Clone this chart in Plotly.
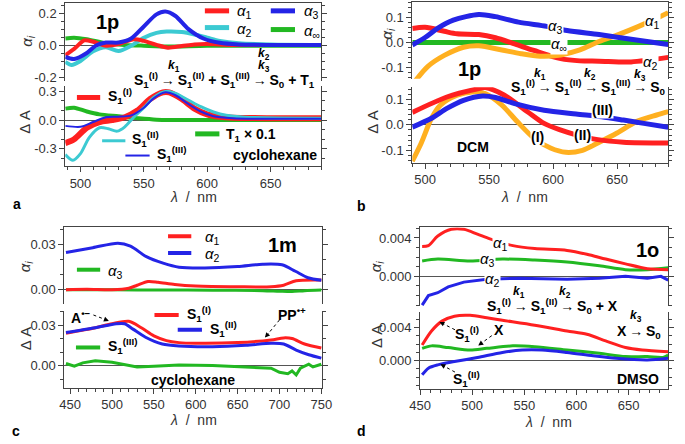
import plotly.graph_objects as go

# ---------------- data ----------------
# panel a (1p, cyclohexane) - amplitudes
a_a1_x = [488, 495, 503, 510, 520, 530, 542, 550, 560, 569, 580, 590, 600, 620, 690]
a_a1_y = [-0.06, -0.02, 0.033, 0.025, 0.0, 0.01, 0.04, 0.03, 0.005, -0.012, -0.002, 0.008, 0.01, 0.005, 0.005]
a_a2_x = [488, 493, 500, 510, 520, 530, 540, 550, 560, 568, 580, 590, 600, 610, 625, 650, 690]
a_a2_y = [-0.1, -0.12, -0.095, -0.035, -0.01, -0.033, 0.0, 0.05, 0.08, 0.088, 0.085, 0.07, 0.05, 0.03, 0.015, 0.008, 0.005]
a_a3_x = [488, 495, 505, 512, 520, 530, 540, 550, 560, 567, 575, 585, 597, 610, 625, 650, 690]
a_a3_y = [-0.07, -0.083, -0.045, 0.0, 0.02, 0.02, 0.045, 0.12, 0.195, 0.213, 0.185, 0.105, 0.045, 0.018, 0.008, 0.005, 0.005]
a_ainf_x = [488, 495, 505, 520, 535, 550, 570, 600, 690]
a_ainf_y = [0.045, 0.05, 0.04, 0.015, 0.005, 0.0, -0.005, 0.0, 0.0]
# panel a - species spectra
a_s1_x = [488, 495, 505, 515, 525, 535, 545, 555, 565, 570, 580, 590, 600, 610, 620, 650, 690]
a_s1_y = [-0.24, -0.2, -0.08, -0.02, 0.0, 0.03, 0.1, 0.22, 0.29, 0.29, 0.22, 0.12, 0.06, 0.035, 0.025, 0.02, 0.02]
a_s2_x = [488, 494, 500, 507, 515, 522, 529, 535, 542, 550, 558, 567, 575, 585, 595, 605, 615, 630, 690]
a_s2_y = [-0.36, -0.42, -0.35, -0.18, -0.08, -0.09, -0.115, -0.07, 0.03, 0.13, 0.24, 0.3, 0.28, 0.21, 0.14, 0.085, 0.05, 0.03, 0.02]
a_s3_x = [488, 500, 510, 520, 530, 540, 550, 558, 567, 575, 585, 595, 605, 620, 690]
a_s3_y = [-0.06, -0.07, -0.02, 0.03, 0.035, 0.05, 0.13, 0.23, 0.29, 0.26, 0.17, 0.09, 0.04, 0.02, 0.015]
a_t1_x = [488, 495, 505, 515, 530, 545, 560, 600, 690]
a_t1_y = [0.12, 0.13, 0.09, 0.06, 0.04, 0.02, 0.005, 0.0, 0.0]

# panel b (1p, DCM) - amplitudes
b_a1_x = [490, 502, 515, 530, 542, 560, 575, 590, 606, 621, 636, 651, 666, 680, 690]
b_a1_y = [-0.17, -0.097, -0.052, -0.019, -0.013, -0.03, -0.045, -0.055, -0.05, -0.03, 0.004, 0.032, 0.063, 0.095, 0.12]
b_a2_x = [490, 500, 515, 525, 542, 555, 570, 585, 606, 621, 636, 661, 690]
b_a2_y = [0.056, 0.061, 0.045, 0.035, 0.032, 0.019, -0.006, -0.032, -0.065, -0.074, -0.075, -0.078, -0.06]
b_a3_x = [490, 500, 510, 522, 542, 555, 573, 595, 611, 636, 661, 690]
b_a3_y = [-0.01, 0.02, 0.058, 0.09, 0.113, 0.104, 0.082, 0.065, 0.048, 0.032, 0.013, -0.008]
b_ainf_x = [490, 690]
b_ainf_y = [0.0, 0.0]
# panel b - species spectra
b_s1_x = [490, 497, 505, 512, 525, 537, 547, 560, 572, 585, 598, 610, 623, 635, 650, 665, 681, 690]
b_s1_y = [-0.143, -0.071, 0.026, 0.078, 0.117, 0.13, 0.123, 0.078, 0.013, -0.052, -0.091, -0.108, -0.1, -0.071, -0.032, 0.013, 0.039, 0.052]
b_s2_x = [490, 517, 542, 547, 562, 580, 593, 605, 618, 635, 655, 690]
b_s2_y = [0.049, 0.11, 0.143, 0.147, 0.117, 0.052, 0.006, -0.019, -0.039, -0.058, -0.068, -0.071]
b_s3_x = [490, 505, 517, 530, 545, 555, 570, 593, 618, 638, 655, 671, 690]
b_s3_y = [-0.009, 0.026, 0.065, 0.097, 0.114, 0.108, 0.084, 0.058, 0.043, 0.032, 0.019, 0.006, -0.009]

# panel c (1m, cyclohexane) - amplitudes
c_a1_x = [445, 470, 500, 520, 530, 543, 555, 575, 600, 650, 690, 705, 720, 750]
c_a1_y = [0.0, 0.0003, 0.0, 0.001, 0.003, 0.0055, 0.005, 0.0035, 0.0025, 0.002, 0.002, 0.003, 0.006, 0.0065]
c_a2_x = [445, 477, 507, 522, 541, 561, 580, 611, 650, 680, 703, 719, 734, 750]
c_a2_y = [0.0248, 0.028, 0.031, 0.029, 0.022, 0.0177, 0.015, 0.0145, 0.0155, 0.017, 0.0166, 0.0123, 0.008, 0.0063]
c_a3_x = [445, 500, 560, 620, 680, 700, 715, 730, 750]
c_a3_y = [0.0, 0.0, -0.0002, -0.0003, -0.0006, -0.001, -0.0012, -0.0006, -0.0002]
# panel c - species spectra
c_s1_x = [445, 480, 500, 520, 535, 550, 565, 580, 600, 650, 690, 705, 715, 730, 750]
c_s1_y = [0.024, 0.028, 0.031, 0.0328, 0.028, 0.022, 0.0185, 0.017, 0.0165, 0.017, 0.019, 0.0205, 0.02, 0.016, 0.013]
c_s2_x = [445, 480, 505, 515, 525, 540, 560, 580, 620, 660, 690, 705, 720, 735, 750]
c_s2_y = [0.0245, 0.028, 0.031, 0.031, 0.027, 0.021, 0.016, 0.0145, 0.014, 0.015, 0.0165, 0.016, 0.0115, 0.008, 0.0055]
c_s3_x = [445, 455, 465, 480, 500, 520, 530, 550, 580, 620, 660, 690, 700, 710, 715, 720, 725, 735, 740, 750]
c_s3_y = [0.0015, -0.0005, 0.002, 0.0035, 0.0025, 0.0, -0.001, -0.0005, 0.0005, 0.0, -0.001, -0.002, -0.005, -0.006, -0.004, -0.007, -0.002, 0.001, -0.001, 0.001]

# panel d (1o, DMSO) - amplitudes
d_a1_x = [452, 458, 467, 480, 492, 505, 517, 539, 560, 591, 610, 628, 647, 668, 688]
d_a1_y = [0.0031, 0.0032, 0.0042, 0.0049, 0.0049, 0.0044, 0.0039, 0.0032, 0.0029, 0.0027, 0.0023, 0.0018, 0.0013, 0.0008, 0.0007]
d_a2_x = [452, 458, 467, 477, 492, 514, 545, 591, 622, 647, 668, 681, 688]
d_a2_y = [-0.003, -0.002, -0.0017, -0.0011, -0.0006, -0.0003, -0.0002, -0.0003, -0.0002, 0.0, -0.0002, 0.0, -0.0004]
d_a3_x = [452, 467, 498, 529, 560, 591, 622, 647, 668, 688]
d_a3_y = [0.0016, 0.0018, 0.0016, 0.0018, 0.0017, 0.0015, 0.0011, 0.0007, 0.0007, 0.0009]
# panel d - species spectra
d_s1_x = [452, 461, 471, 483, 498, 514, 529, 560, 591, 610, 628, 647, 663, 688]
d_s1_y = [0.0019, 0.0036, 0.0048, 0.0054, 0.0055, 0.0052, 0.0049, 0.0043, 0.0036, 0.0032, 0.0024, 0.0016, 0.0013, 0.0011]
d_s2_x = [452, 458, 467, 483, 505, 529, 548, 567, 591, 616, 638, 668, 688]
d_s2_y = [-0.0017, -0.0009, -0.0005, -0.0001, 0.0004, 0.001, 0.0013, 0.0013, 0.001, 0.0006, 0.0003, 0.0001, 0.0003]
d_x_x = [452, 461, 477, 498, 514, 539, 560, 591, 622, 647, 668, 683, 688]
d_x_y = [0.0015, 0.0018, 0.0016, 0.0013, 0.0015, 0.0018, 0.0017, 0.0013, 0.0009, 0.0005, 0.0005, 0.0004, 0.0007]

RED = "#ff2020"
BLUE = "#2424e6"
CYAN = "#3ccad2"
GREEN = "#22b822"
ORANGE = "#ffb020"
AX = "#444444"
FONT = "Liberation Sans, Arial, sans-serif"

W, H = 685, 444


def X(px):
    return px / W


def Y(py):
    return 1 - py / H


fig = go.Figure()


def line(n, xs, ys, color, width, shape="spline"):
    fig.add_trace(go.Scatter(x=xs, y=ys, mode="lines", xaxis="x%d" % n if n > 1 else "x",
                             yaxis="y%d" % n if n > 1 else "y", showlegend=False,
                             line=dict(color=color, width=width, shape=shape, smoothing=0.8)))


# a
line(1, a_ainf_x, a_ainf_y, GREEN, 4)
line(1, a_a2_x, a_a2_y, CYAN, 4)
line(1, a_a1_x, a_a1_y, RED, 4)
line(1, a_a3_x, a_a3_y, BLUE, 4)
line(2, a_t1_x, a_t1_y, GREEN, 4)
line(2, a_s1_x, a_s1_y, RED, 6)
line(2, a_s2_x, a_s2_y, CYAN, 3)
line(2, a_s3_x, a_s3_y, BLUE, 2)
# b
line(3, b_ainf_x, b_ainf_y, GREEN, 5)
line(3, b_a2_x, b_a2_y, RED, 5)
line(3, b_a1_x, b_a1_y, ORANGE, 5)
line(3, b_a3_x, b_a3_y, BLUE, 5)
line(4, b_s1_x, b_s1_y, ORANGE, 5)
line(4, b_s2_x, b_s2_y, RED, 5)
line(4, b_s3_x, b_s3_y, BLUE, 5)
# c
line(5, c_a3_x, c_a3_y, GREEN, 3)
line(5, c_a1_x, c_a1_y, RED, 3)
line(5, c_a2_x, c_a2_y, BLUE, 3)
line(6, c_s3_x, c_s3_y, GREEN, 3, "linear")
line(6, c_s1_x, c_s1_y, RED, 3)
line(6, c_s2_x, c_s2_y, BLUE, 3)
# d
line(7, d_a2_x, d_a2_y, BLUE, 3, "linear")
line(7, d_a3_x, d_a3_y, GREEN, 3)
line(7, d_a1_x, d_a1_y, RED, 3)
line(8, d_x_x, d_x_y, GREEN, 3)
line(8, d_s2_x, d_s2_y, BLUE, 3)
line(8, d_s1_x, d_s1_y, RED, 3)

# ---------------- axes ----------------
panels = [
    dict(xp=(56, 320), xr=[488, 690], top=(1, 80), bot=(85, 166.7)),
    dict(xp=(414, 678), xr=[490, 690], top=(0, 78), bot=(86.7, 163.3)),
    dict(xp=(55, 321), xr=[443, 751], top=(229, 307), bot=(314, 392)),
    dict(xp=(422, 678), xr=[450, 688], top=(229, 309), bot=(315, 393)),
]
yspecs = [
    dict(r=[-0.218, 0.266], tv=[-0.2, 0, 0.2], tt=["-0.2", "0.0", "0.2"], m=0.05),
    dict(r=[-0.48, 0.36], tv=[-0.3, 0, 0.3], tt=["-0.3", "0.0", "0.3"], m=0.1),
    dict(r=[-0.146, 0.163], tv=[-0.1, 0, 0.1], tt=["-0.1", "0.0", "0.1"], m=0.02),
    dict(r=[-0.149, 0.148], tv=[-0.1, 0, 0.1], tt=["-0.1", "0.0", "0.1"], m=0.02),
    dict(r=[-0.0096, 0.0415], tv=[0, 0.03], tt=["0.00", "0.03"], m=0.01),
    dict(r=[-0.0165, 0.0404], tv=[0, 0.03], tt=["0.00", "0.03"], m=0.01),
    dict(r=[-0.0031, 0.0051], tv=[0, 0.004], tt=["0.000", "0.004"], m=0.001),
    dict(r=[-0.0034, 0.0059], tv=[0, 0.004], tt=["0.000", "0.004"], m=0.001),
]
tickfont = dict(family=FONT, size=13, color="#333333")
lay = {}
for i, p in enumerate(panels):
    for j, (key, box) in enumerate([("top", p["top"]), ("bot", p["bot"])]):
        n = 2 * i + j + 1
        xn = "xaxis" if n == 1 else "xaxis%d" % n
        yn = "yaxis" if n == 1 else "yaxis%d" % n
        xd = [X(p["xp"][0]), X(p["xp"][1])]
        yd = [Y(box[1]), Y(box[0])]
        ys = yspecs[n - 1]
        if key == "top":
            lay[xn] = dict(domain=xd, range=p["xr"], anchor="y%d" % n if n > 1 else "y", side="top",
                           showline=True, linecolor=AX, linewidth=1, ticks="", showticklabels=False,
                           showgrid=False, zeroline=False)
        else:
            lay[xn] = dict(domain=xd, range=p["xr"], anchor="y%d" % n, showline=True, linecolor=AX,
                           linewidth=1, ticks="outside", ticklen=5, tickcolor=AX, dtick=50, tick0=0,
                           tickfont=tickfont, showgrid=False, zeroline=False,
                           minor=dict(dtick=10, tick0=0, ticks="outside", ticklen=3, tickcolor=AX))
        lay[yn] = dict(domain=yd, range=ys["r"], anchor="x%d" % n if n > 1 else "x", showline=True,
                       linecolor=AX, linewidth=1, mirror="ticks", ticks="outside", ticklen=5,
                       tickcolor=AX, tickmode="array", tickvals=ys["tv"], ticktext=ys["tt"],
                       tickfont=tickfont, showgrid=False, zeroline=True, zerolinecolor="#555555",
                       zerolinewidth=1,
                       minor=dict(dtick=ys["m"], tick0=0, ticks="outside", ticklen=3, tickcolor=AX))
fig.update_layout(**lay)

# ---------------- annotations ----------------
ann = []
shapes = []


def T(x, y, text, size=15, bold=True, xa="center", color="black", bg=None, angle=0):
    if bold:
        text = "<b>" + text + "</b>"
    d = dict(x=X(x), y=Y(y), xref="paper", yref="paper", text=text, showarrow=False,
             xanchor=xa, yanchor="middle", textangle=angle,
             font=dict(family=FONT, size=size, color=color))
    if bg:
        d["bgcolor"] = bg
        d["borderpad"] = 0
    ann.append(d)


def swatch(x0, x1, y, color, width):
    shapes.append(dict(type="line", xref="paper", yref="paper", x0=X(x0), x1=X(x1), y0=Y(y), y1=Y(y),
                       line=dict(color=color, width=width)))


def darrow(x0, y0, x1, y1):
    shapes.append(dict(type="line", xref="paper", yref="paper", x0=X(x0), y0=Y(y0), x1=X(x1), y1=Y(y1),
                       line=dict(color="black", width=1, dash="dot")))
    ann.append(dict(x=X(x1), y=Y(y1), xref="paper", yref="paper", ax=-(x1 - x0) * 0.3,
                    ay=-(y1 - y0) * 0.3, text="", showarrow=True,
                    arrowhead=2, arrowsize=1, arrowwidth=1, arrowcolor="black"))


AL = "<i>α</i>"
S1 = "S<sub>1</sub>"
AR = "\u2009→\u2009"

# axis titles
for (x, y) in [(17, 39), (388, 32), (15, 269), (377, 268)]:
    T(x, y, "<i>α<sub>i</sub></i>", size=15, bold=False, color="#333333", angle=-90)
for (x, y) in [(14, 122), (373, 122), (15, 342), (377, 340)]:
    T(x, y, "Δ A", size=15, bold=False, color="#333333", angle=-90)
for (x, y) in [(188, 198), (530, 198), (188, 425), (555, 427)]:
    T(x, y, "<i>λ</i>  /  nm", size=14, bold=False, color="#333333")
for (x, y, t) in [(6, 205, "a"), (362, 207, "b"), (5, 436, "c"), (362, 436, "d")]:
    T(x, y, t, size=14)

# panel a
T(100, 20, "1p", size=20)
swatch(200, 225, 9, RED, 5)
T(231, 10, AL + "<sub>1</sub>", size=15, bold=False, xa="left")
swatch(268, 293, 9, BLUE, 5)
T(300, 10, AL + "<sub>3</sub>", size=15, bold=False, xa="left")
swatch(200, 225, 26, CYAN, 5)
T(231, 28, AL + "<sub>2</sub>", size=15, bold=False, xa="left")
swatch(268, 293, 28, GREEN, 5)
T(300, 30, AL + "<sub>∞</sub>", size=15, bold=False, xa="left")
T(316, 79, S1 + "<sup>(I)</sup>" + AR + S1 + "<sup>(II)</sup> + " + S1 + "<sup>(III)</sup>" + AR
  + "S<sub>0</sub> + T<sub>1</sub>", size=14, xa="right")
T(168, 65, "<i>k</i><sub>1</sub>", size=12)
T(261, 53, "<i>k</i><sub>2</sub>", size=12)
T(261, 65, "<i>k</i><sub>3</sub>", size=12)
swatch(68, 92, 97, RED, 5)
T(98, 95, S1 + "<sup>(I)</sup>", size=14, xa="left")
swatch(94, 118, 141, CYAN, 3)
T(123, 139, S1 + "<sup>(II)</sup>", size=14, xa="left")
swatch(118, 143, 156, BLUE, 2)
T(149, 154, S1 + "<sup>(III)</sup>", size=14, xa="left")
swatch(190, 215, 134, GREEN, 5)
T(220, 135, "T<sub>1</sub> × 0.1", size=14, xa="left")
T(318, 155, "cyclohexane", size=14, xa="right")

# panel b
T(473, 68, "1p", size=20)
T(562, 25, AL + "<sub>3</sub>", size=15, bold=False, bg="white")
T(662, 20, AL + "<sub>1</sub>", size=15, bold=False, bg="white")
T(565, 43, AL + "<sub>∞</sub>", size=15, bold=False, bg="white")
T(660, 61, AL + "<sub>2</sub>", size=15, bold=False, bg="white")
T(514, 86, S1 + "<sup>(I)</sup>" + AR + S1 + "<sup>(II)</sup>" + AR + S1 + "<sup>(III)</sup>" + AR
  + "S<sub>0</sub>", size=14, xa="left")
T(546, 73, "<i>k</i><sub>1</sub>", size=12)
T(597, 73, "<i>k</i><sub>2</sub>", size=12)
T(649, 74, "<i>k</i><sub>3</sub>", size=12)
T(610, 110, "(III)", size=14, bg="white")
T(590, 135, "(II)", size=14, bg="white")
T(543, 137, "(I)", size=14, bg="white")
T(477, 147, "DCM", size=14)

# panel c
T(280, 247, "1m", size=20)
swatch(162, 186, 238, RED, 4)
T(198, 239, AL + "<sub>1</sub>", size=15, bold=False, xa="left")
swatch(162, 186, 255, BLUE, 4)
T(198, 257, AL + "<sub>2</sub>", size=15, bold=False, xa="left")
swatch(68, 92, 272, GREEN, 4)
T(98, 274, AL + "<sub>3</sub>", size=15, bold=False, xa="left")
T(72, 320, "A<sup>•−</sup>", size=14)
darrow(85, 318, 101, 324)
swatch(148, 173, 318, RED, 4)
T(179, 317, S1 + "<sup>(I)</sup>", size=14, xa="left")
swatch(172, 197, 333, BLUE, 4)
T(203, 332, S1 + "<sup>(II)</sup>", size=14, xa="left")
swatch(67, 92, 351, GREEN, 4)
T(98, 350, S1 + "<sup>(III)</sup>", size=14, xa="left")
T(290, 317, "PP<sup>•+</sup>", size=14)
darrow(277, 323, 262, 341)
T(188, 384, "cyclohexane", size=14)

# panel d
T(657, 252, "1o", size=20)
T(505, 245, AL + "<sub>1</sub>", size=15, bold=False, bg="white")
T(492, 262, AL + "<sub>3</sub>", size=15, bold=False, bg="white")
T(497, 282, AL + "<sub>2</sub>", size=15, bold=False, bg="white")
T(489, 309, S1 + "<sup>(I)</sup>" + AR + S1 + "<sup>(II)</sup>" + AR + "S<sub>0</sub> + X", size=14, xa="left")
T(524, 295, "<i>k</i><sub>1</sub>", size=12)
T(572, 295, "<i>k</i><sub>2</sub>", size=12)
T(623, 335, "X" + AR + "S<sub>0</sub>", size=14, xa="left")
T(645, 319, "<i>k</i><sub>3</sub>", size=12)
T(470, 337, S1 + "<sup>(I)</sup>", size=14)
darrow(458, 333, 442, 325)
T(503, 333, "X", size=14)
darrow(496, 339, 482, 349)
T(470, 383, S1 + "<sup>(II)</sup>", size=14)
darrow(458, 376, 443, 368)
T(647, 383, "DMSO", size=14)

fig.update_layout(width=W, height=H, margin=dict(l=0, r=0, t=0, b=0), paper_bgcolor="white",
                  plot_bgcolor="white", showlegend=False, annotations=ann, shapes=shapes,
                  font=dict(family=FONT))
fig.write_html("out.html", config={"displayModeBar": False},
               post_script="document.body.style.margin='0';")
